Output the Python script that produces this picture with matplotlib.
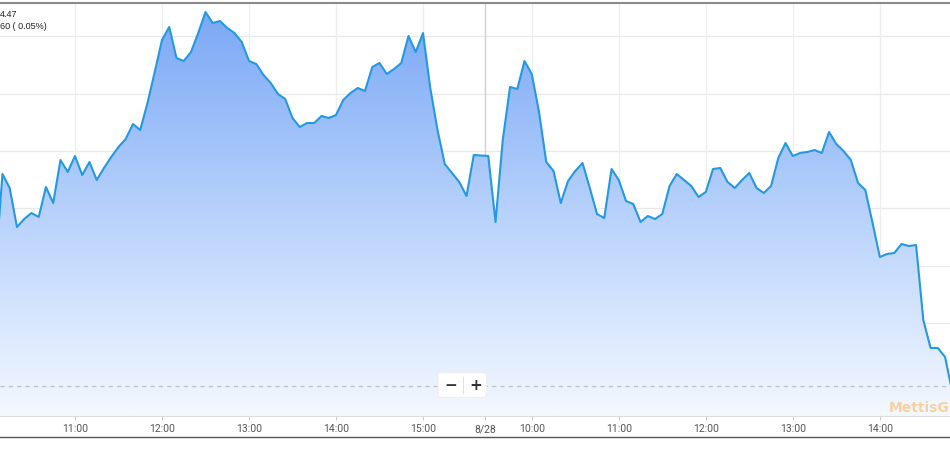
import numpy as np
import pandas as pd
import matplotlib
matplotlib.use("Agg")
import matplotlib.pyplot as plt
from matplotlib.colors import LinearSegmentedColormap
from matplotlib.patches import FancyBboxPatch
from matplotlib.lines import Line2D

# 5-minute samples, two sessions
day1_times = pd.timedelta_range("10:05:00", "15:35:00", freq="5min")
day2_times = pd.timedelta_range("09:30:00", "14:50:00", freq="5min")
day1_values = [130, 226, 212, 173, 181, 187, 183, 213, 197, 240, 228, 244, 225, 238, 220, 232,
               243, 253, 261, 276, 270, 297, 328, 360, 373, 342, 339, 348, 367, 388, 377, 379,
               372, 367, 358, 339, 336, 325, 317, 306, 301, 282, 273, 277, 277, 284, 282, 285,
               300, 307, 312, 309, 333, 337, 326, 331, 337, 364, 348, 367, 312, 270, 236, 227,
               218, 204, 245]
day2_values = [244, 178, 260, 313, 311, 339, 326, 288, 238, 229, 197, 219, 229, 237, 212, 186,
               182, 231, 220, 199, 196, 178, 184, 181, 186, 214, 226, 220, 214, 203, 208, 231,
               232, 218, 212, 220, 227, 212, 207, 214, 242, 257, 244, 247, 248, 250, 247, 268,
               256, 249, 240, 217, 210, 177, 143, 146, 147, 156, 154, 155, 80, 52, 52, 43, 8]
prev_close = 14
grid_levels = [77, 134, 192, 249, 306, 364]
session_gap = 375  # minutes added to day 2 so it follows day 1 on the axis

tick_pos = [660, 720, 780, 840, 900, 568 + session_gap, 600 + session_gap, 660 + session_gap,
            720 + session_gap, 780 + session_gap, 840 + session_gap]
tick_labels = ["11:00", "12:00", "13:00", "14:00", "15:00", "8/28",
               "10:00", "11:00", "12:00", "13:00", "14:00"]

x1 = day1_times.total_seconds() / 60
x2 = day2_times.total_seconds() / 60 + session_gap
x = np.concatenate([x1, x2])
y = np.array(day1_values + day2_values, dtype=float)

fig = plt.figure(figsize=(9.5, 4.5), dpi=100)
ax = fig.add_axes([0, 1 - 416 / 450, 1, 413 / 450])

xmin, xmax = 608.3, 1263.4
ymin, ymax = -16, 397
ax.set_xlim(xmin, xmax)
ax.set_ylim(ymin, ymax)

# grid
for g in grid_levels:
    ax.axhline(g, color="#e9e9e9", linewidth=0.9, zorder=0)
for p, lab in zip(tick_pos, tick_labels):
    if lab == "8/28":
        ax.axvline(p, color="#cfcfcf", linewidth=1, zorder=0)
    else:
        ax.axvline(p, color="#eeeeee", linewidth=0.9, zorder=0)

# gradient fill under the line
cmap = LinearSegmentedColormap.from_list("fill", ["#f4f8ff", "#b6d1fb", "#78a6f5"])
grad = np.linspace(0, 1, 256).reshape(-1, 1)
img = ax.imshow(grad, cmap=cmap, aspect="auto", origin="lower",
                extent=[xmin, xmax, ymin, ymax], zorder=1)
poly = ax.fill_between(x, y, ymin, color="none", linewidth=0)
img.set_clip_path(poly.get_paths()[0], ax.transData)

ax.plot(x, y, color="#2499e2", linewidth=1.5, zorder=3)

ax.axhline(prev_close, color="#c4c4c4", linewidth=1, linestyle=(0, (3, 3)), zorder=2)

# axis styling
for s in ["left", "right"]:
    ax.spines[s].set_visible(False)
ax.spines["top"].set_color("#8a8a8a")
ax.spines["top"].set_linewidth(1.5)
ax.spines["bottom"].set_color("#dddddd")
ax.set_yticks([])
ax.set_xticks(tick_pos)
ax.set_xticklabels(tick_labels, family="Roboto")
ax.tick_params(axis="x", length=3, color="#cccccc", labelcolor="#555555",
               labelsize=7.5, pad=3)

# zoom buttons
box = FancyBboxPatch((0.461, 0.045), 0.051, 0.06, boxstyle="round,pad=0,rounding_size=0.004",
                     transform=ax.transAxes, facecolor="white", edgecolor="#eeeeee",
                     linewidth=0.8, zorder=5)
ax.add_patch(box)
ax.plot([0.4875, 0.4875], [0.055, 0.095], transform=ax.transAxes, color="#e2e2e2",
        linewidth=0.8, zorder=6)
ax.text(0.4745, 0.075, "\u2212", transform=ax.transAxes, ha="center", va="center",
        fontsize=11, fontweight="bold", color="#333333", zorder=6)
ax.text(0.501, 0.075, "+", transform=ax.transAxes, ha="center", va="center",
        fontsize=11, fontweight="bold", color="#333333", zorder=6)

# header text and watermark
ax.text(0.0, 0.971, "4.47", transform=ax.transAxes, ha="left", va="center",
        fontsize=6.5, family="Liberation Sans", color="#222222", zorder=6)
ax.text(0.0, 0.942, "60 ( 0.05%)", transform=ax.transAxes, ha="left", va="center",
        fontsize=6.5, family="Liberation Sans", color="#222222", zorder=6)
ax.text(0.999, 0.02, "MettisG", transform=ax.transAxes, ha="right", va="center",
        fontsize=10, fontweight="bold", color="#f6c88a", alpha=0.8, zorder=6)

fig.add_artist(Line2D([0, 1], [1 - 437 / 450, 1 - 437 / 450], color="#555555", linewidth=1))

fig.savefig("out.png", dpi=100)
